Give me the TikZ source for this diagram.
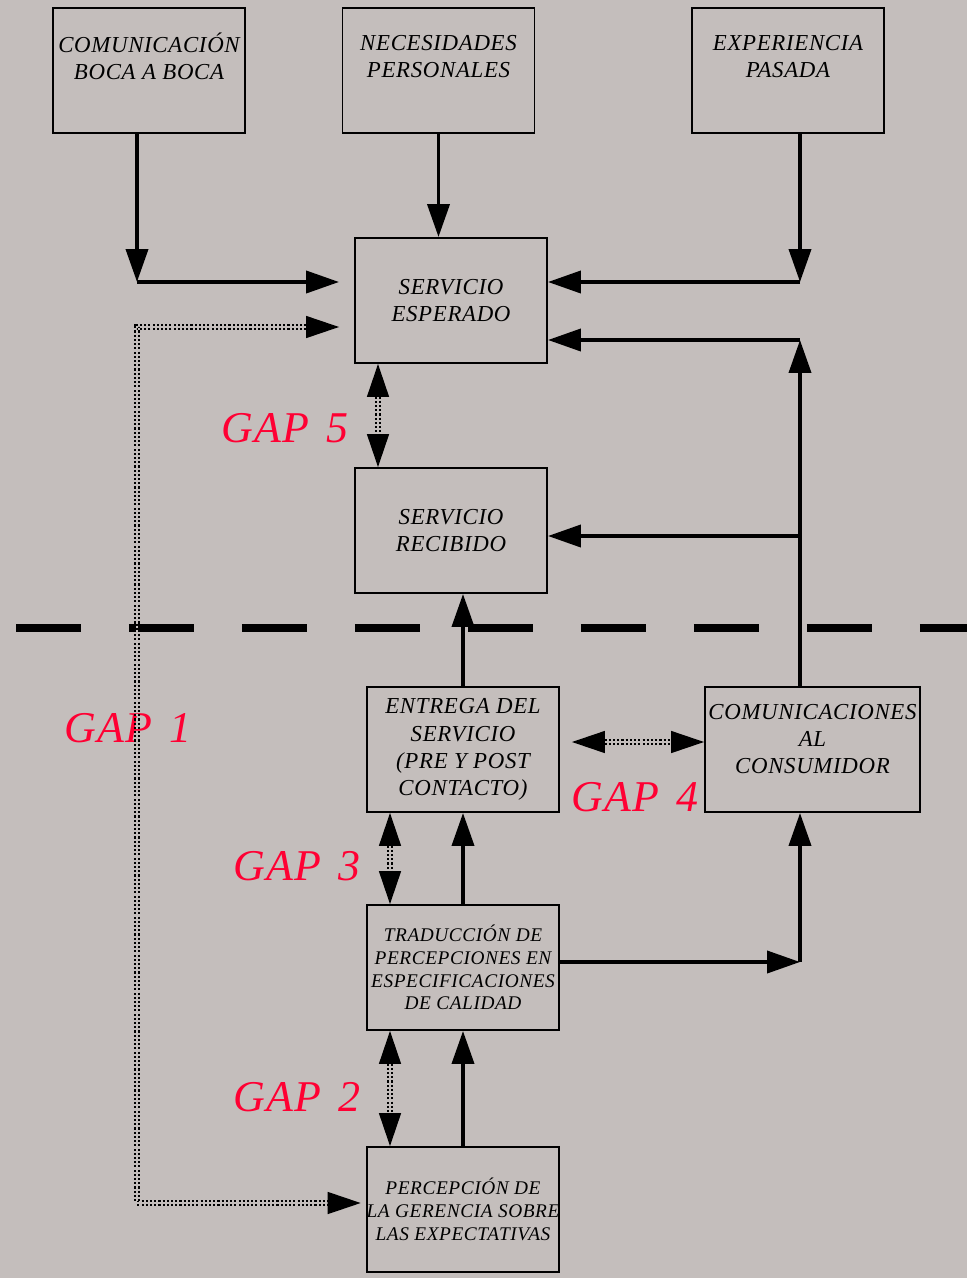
\documentclass[tikz,border=0pt]{standalone}
\usepackage{fontspec}
\setmainfont{Liberation Serif}[LetterSpace=3]
\usetikzlibrary{arrows.meta}
\definecolor{fondo}{RGB}{196,190,188}
\definecolor{rojogap}{RGB}{255,0,51}

\begin{document}
\begin{tikzpicture}[x=0.02cm, y=-0.02cm,
  caja/.style={draw, line width=1.1pt, minimum width=3.84cm, minimum height=2.5cm,
    inner sep=0pt, align=center, font=\itshape\fontsize{13}{15.5}\selectfont},
  cajachica/.style={caja, font=\itshape\fontsize{11}{13}\selectfont},
  arriba/.style={text depth=16pt},
  gap/.style={text=rojogap, font=\itshape\fontsize{25}{28}\selectfont},
  flecha/.style={line width=2.2pt, -{Triangle[length=0.66cm, width=0.44cm]}},
  doble/.style={line width=0.8pt, double=fondo, double distance=1.4pt,
    dash pattern=on 1.2pt off 1.2pt,
    {Triangle[length=0.66cm, width=0.44cm]}-{Triangle[length=0.66cm, width=0.44cm]}},
  separador/.style={line width=0.16cm, dash pattern=on 1.3cm off 0.96cm}
]
  % Background
  \fill[fondo] (0,0) rectangle (967,1278);
  \useasboundingbox (0,0) rectangle (967,1278);

  % Boxes
  \node[caja, arriba] (boca) at (149,70.5) {COMUNICACIÓN\\BOCA A BOCA};
  \node[caja, arriba] (necesidades) at (438.5,70.5) {NECESIDADES\\PERSONALES};
  \node[caja, arriba] (experiencia) at (788,70.5) {EXPERIENCIA\\PASADA};
  \node[caja] (esperado) at (451,300.5) {SERVICIO\\ESPERADO};
  \node[caja] (recibido) at (451,530.5) {SERVICIO\\RECIBIDO};
  \node[caja] (entrega) at (463,749.5) {ENTREGA DEL\\SERVICIO\\(PRE Y POST\\CONTACTO)};
  \node[caja, minimum width=4.3cm, text depth=12pt] (comunicaciones) at (812.5,749.5)
    {COMUNICACIONES\\AL\\CONSUMIDOR};
  \node[cajachica] (traduccion) at (463,967.5)
    {TRADUCCIÓN DE\\PERCEPCIONES EN\\ESPECIFICACIONES\\DE CALIDAD};
  \node[cajachica] (percepcion) at (463,1209.5)
    {PERCEPCIÓN DE\\LA GERENCIA SOBRE\\LAS EXPECTATIVAS};

  % Gap labels
  \node[gap] (gap5) at (285,428) {GAP\hspace{0.4em}5};
  \node[gap] (gap1) at (128,728) {GAP\hspace{0.4em}1};
  \node[gap] (gap4) at (635,797) {GAP\hspace{0.4em}4};
  \node[gap] (gap3) at (297,866) {GAP\hspace{0.4em}3};
  \node[gap] (gap2) at (297,1097) {GAP\hspace{0.4em}2};

  % Key points
  \coordinate (c1) at (137,282);
  \coordinate (c2) at (800,282);
  \coordinate (c3) at (800,340);
  \coordinate (c4) at (800,536);
  \coordinate (c5) at (800,962);
  \coordinate (g5) at (378,0);
  \coordinate (g3) at (390,0);
  \coordinate (g4) at (0,742);
  \coordinate (g1a) at (137,327);
  \coordinate (g1b) at (137,1203);

  % Line of visibility
  \draw[separador] (16,628) -- (967,628);

  % Consumer side
  \draw[flecha] (boca.south -| c1) -- (c1);
  \draw[flecha, shorten >=0.3cm] (c1) -- (c1 -| esperado.west);
  \draw[flecha] (necesidades.south) -- (esperado.north -| necesidades.south);
  \draw[flecha] (experiencia.south -| c2) -- (c2);
  \draw[flecha] (c2) -- (c2 -| esperado.east);
  \draw[flecha] (comunicaciones.north -| c3) -- (c3);
  \draw[flecha] (c3) -- (c3 -| esperado.east);
  \draw[flecha] (c4) -- (c4 -| recibido.east);

  % Provider side
  \draw[flecha] (entrega.north) -- (recibido.south -| entrega.north);
  \draw[flecha] (traduccion.north) -- (entrega.south);
  \draw[flecha] (percepcion.north) -- (traduccion.south);
  \draw[flecha] (traduccion.east |- c5) -- (c5);
  \draw[flecha] (c5) -- (comunicaciones.south -| c5);

  % Gaps
  \draw[doble] (esperado.south -| g5) -- (recibido.north -| g5);
  \draw[doble, shorten <=0.24cm] (entrega.east |- g4) -- (comunicaciones.west |- g4);
  \draw[doble] (entrega.south -| g3) -- (traduccion.north -| g3);
  \draw[doble] (traduccion.south -| g3) -- (percepcion.north -| g3);
  \draw[doble, shorten <=0.3cm, shorten >=0.1cm]
    (esperado.west |- g1a) -- (g1a) -- (g1b) -- (percepcion.west |- g1b);
\end{tikzpicture}
\end{document}
